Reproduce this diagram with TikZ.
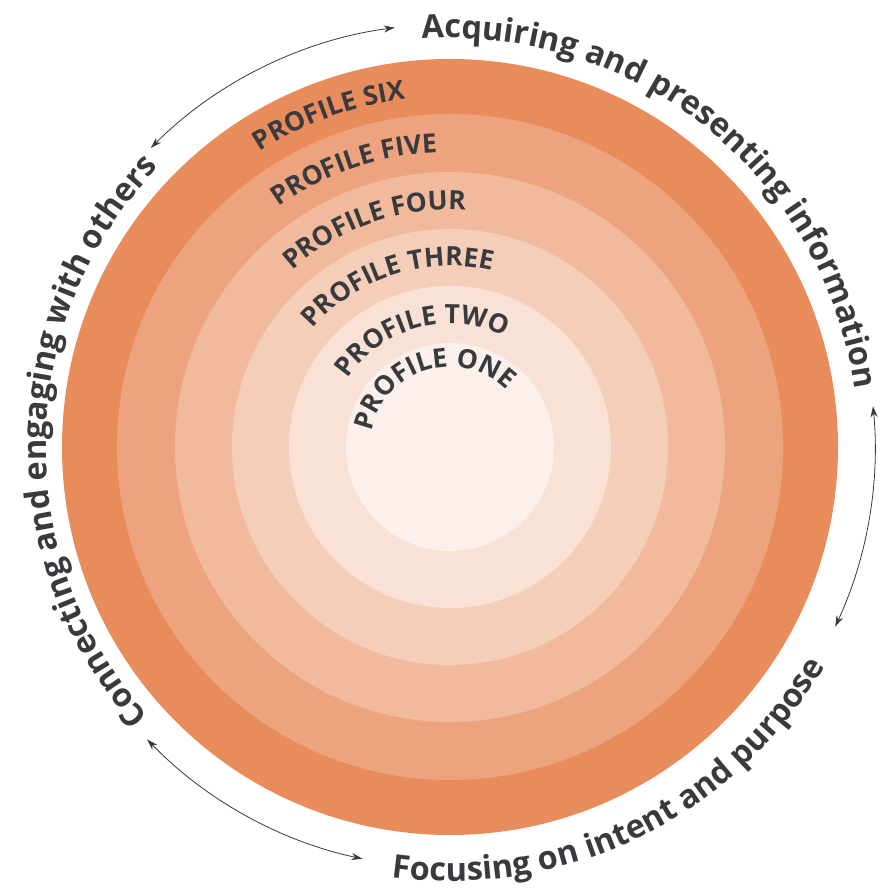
\documentclass[tikz,border=0pt]{standalone}
\usepackage{fontspec}
\setmainfont{Open Sans}
\usetikzlibrary{decorations.text,arrows.meta}
\definecolor{txt}{HTML}{383A3D}
\definecolor{cA}{HTML}{E98C5B}
\definecolor{cB}{HTML}{EDA37D}
\definecolor{cC}{HTML}{F1BA9C}
\definecolor{cD}{HTML}{F5CEBA}
\definecolor{cE}{HTML}{F9E1D5}
\definecolor{cF}{HTML}{FBF0EB}
\newcommand\proffont{\fontsize{26.5}{27}\selectfont\bfseries\color{txt}}
\newcommand\outfont{\fontsize{32.5}{33}\selectfont\bfseries\color{txt}}
\begin{document}
\begin{tikzpicture}[x=1pt,y=1pt,
  prof/.style={decorate,decoration={text along path,text align=center,text={|\proffont|#1}}},
  outer/.style={decorate,decoration={text along path,text align=center,text={|\outfont|#1}}},
  arr/.style={draw=txt,line width=0.8pt,{Stealth[length=11pt,width=7pt]}-{Stealth[length=11pt,width=7pt]}}]
\useasboundingbox (0,0) rectangle (888,888);
\fill[white] (0,0) rectangle (888,888);
\begin{scope}[shift={(450,441)}]
\coordinate (C) at (0,0);
\fill[cA] (C) circle[radius=388];
\fill[cB] (C) circle[radius=333];
\fill[cC] (C) circle[radius=275];
\fill[cD] (C) circle[radius=218];
\fill[cE] (C) circle[radius=161];
\fill[cF] (C) circle[radius=104];
\path[prof={PROFILE ONE}] (187:80) arc[start angle=187,end angle=27,radius=80];
\path[prof={PROFILE TWO}] (185:123) arc[start angle=185,end angle=25,radius=123];
\path[prof={PROFILE THREE}] (188:181) arc[start angle=188,end angle=28,radius=181];
\path[prof={PROFILE FOUR}] (189:237) arc[start angle=189,end angle=29,radius=237];
\path[prof={PROFILE FIVE}] (189:295) arc[start angle=189,end angle=29,radius=295];
\path[prof={PROFILE SIX}] (190:351) arc[start angle=190,end angle=30,radius=351];
\path[outer={Acquiring and presenting information}] (131:409) arc[start angle=131,end angle=-29,radius=409];
\path[outer={Connecting and engaging with others}] (259:404) arc[start angle=259,end angle=99,radius=404];
\path[outer={Focusing on intent and purpose}] (216:434) arc[start angle=216,end angle=376,radius=434];
\path[arr] (135:423) arc[start angle=135,end angle=97.5,radius=423];
\path[arr] (5.5:425) arc[start angle=5.5,end angle=-25,radius=425];
\path[arr] (224:421) arc[start angle=224,end angle=258,radius=421];
\end{scope}
\end{tikzpicture}
\end{document}
